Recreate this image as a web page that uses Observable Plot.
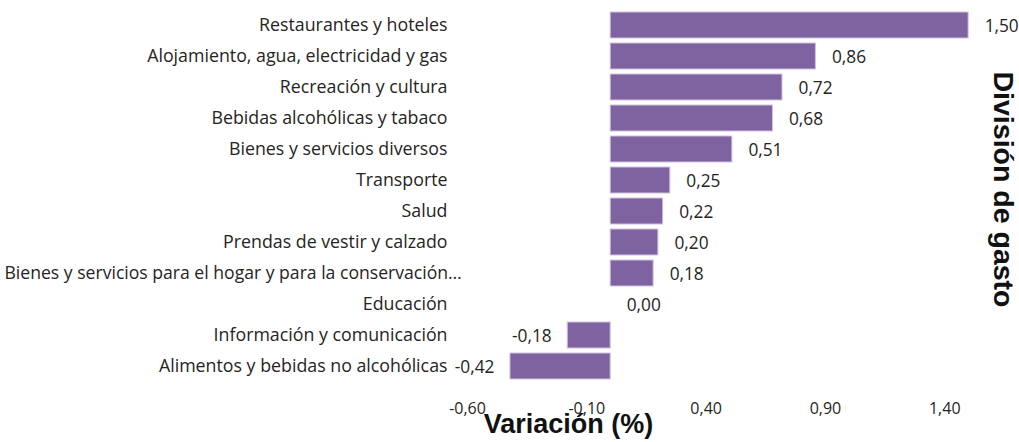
<!DOCTYPE html>
<html>
<head>
<meta charset="utf-8">
<script src="https://cdn.jsdelivr.net/npm/d3@7"></script>
<script src="https://cdn.jsdelivr.net/npm/@observablehq/plot@0.6"></script>
<style>
  html, body { margin: 0; padding: 0; background: #fff; }
  #chart svg { display: block; }
</style>
</head>
<body>
<div id="chart"></div>
<script>
const categories = [
  "Restaurantes y hoteles",
  "Alojamiento, agua, electricidad y gas",
  "Recreación y cultura",
  "Bebidas alcohólicas y tabaco",
  "Bienes y servicios diversos",
  "Transporte",
  "Salud",
  "Prendas de vestir y calzado",
  "Bienes y servicios para el hogar y para la conservación…",
  "Educación",
  "Información y comunicación",
  "Alimentos y bebidas no alcohólicas"
];
const values = [1.50, 0.86, 0.72, 0.68, 0.51, 0.25, 0.22, 0.20, 0.18, 0.00, -0.18, -0.42];
const xTicks = [-0.60, -0.10, 0.40, 0.90, 1.40];
const xTitle = "Variación (%)";
const yTitle = "División de gasto";

const data = categories.map((c, i) => ({category: c, value: values[i]}));
const fmt = v => d3.format(".2f")(v).replace(".", ",").replace("−", "-");
const longLabel = categories.find(c => c.length > 40);
const shortLabels = categories.filter(c => c !== longLabel);

const chart = Plot.plot({
  width: 1019,
  height: 442,
  marginLeft: 467,
  marginRight: 27,
  marginTop: 4,
  marginBottom: 56,
  style: {fontFamily: "'Open Sans', sans-serif", fontSize: "17px", color: "#252423", background: "#fff"},
  x: {domain: [-0.6, 1.6], ticks: xTicks},
  y: {domain: categories, padding: 0.17},
  marks: [
    Plot.barX(data, {x: "value", y: "category", fill: "#7f63a0", stroke: "#cfc4e0", strokeWidth: 1}),
    Plot.text(data.filter(d => d.value >= 0), {x: "value", y: "category", text: d => fmt(d.value), textAnchor: "start", dx: 16, dy: 1, fontSize: 17.3, fill: "#252423"}),
    Plot.text(data.filter(d => d.value < 0), {x: "value", y: "category", text: d => fmt(d.value), textAnchor: "end", dx: -16, dy: 1, fontSize: 17.3, fill: "#252423"}),
    Plot.axisY({ticks: shortLabels, tickSize: 0, tickPadding: 20, fontSize: 17.8, label: null, fill: "#252423"}),
    Plot.text([longLabel], {y: d => d, text: d => d, frameAnchor: "left", textAnchor: "start", dx: -463, fontSize: 17.6, fill: "#252423"}),
    Plot.axisX({ticks: xTicks, tickSize: 0, tickPadding: 16, tickFormat: fmt, fontSize: 16, label: null, fill: "#252423"}),
    Plot.text([xTitle], {frameAnchor: "bottom-left", textAnchor: "middle", dx: 101, dy: 46, fontSize: 27, fontWeight: "bold", fontFamily: "'Liberation Sans', Arial, sans-serif", fill: "#111"}),
    Plot.text([yTitle], {frameAnchor: "right", textAnchor: "middle", rotate: 90, dx: 11, dy: -6, fontSize: 28.5, fontWeight: "bold", fontFamily: "'Liberation Sans', Arial, sans-serif", fill: "#111"})
  ]
});
document.getElementById("chart").appendChild(chart);
</script>
</body>
</html>
